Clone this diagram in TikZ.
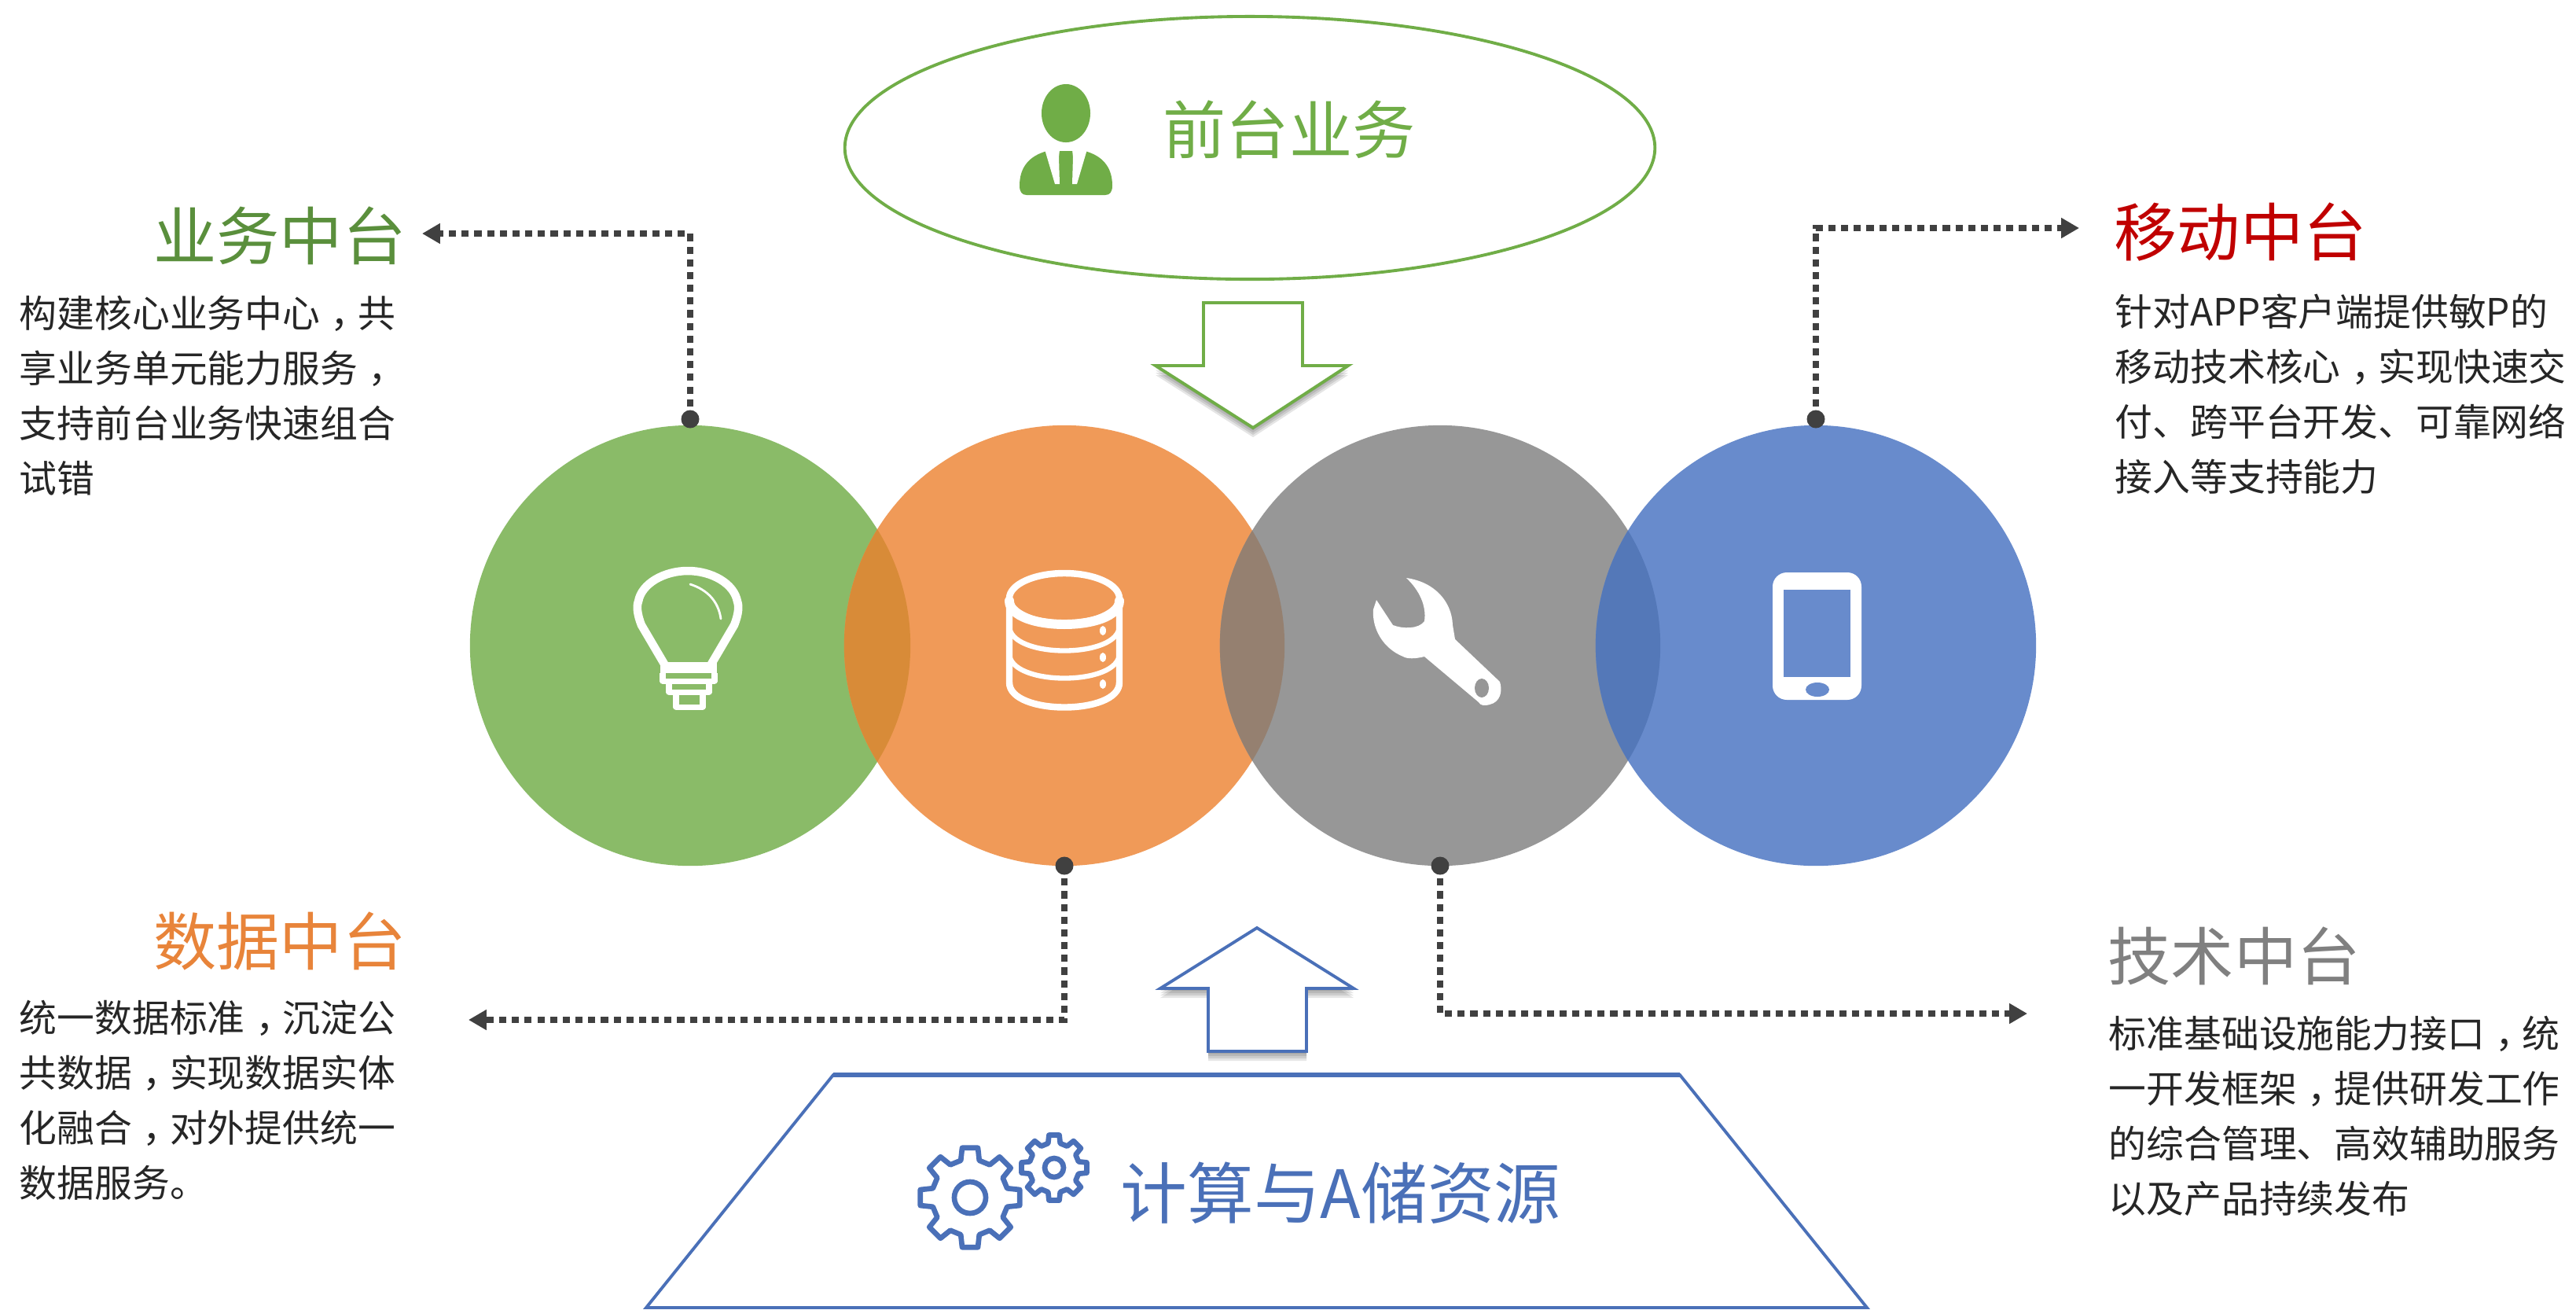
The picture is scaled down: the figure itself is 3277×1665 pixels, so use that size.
\documentclass[tikz,border=0pt]{standalone}
\usepackage{fontspec}
\setmainfont{Noto Sans CJK SC}
\usetikzlibrary{arrows.meta,shapes.geometric}
\definecolor{cgreen}{HTML}{8ABB68}
\definecolor{corange}{HTML}{F09A58}
\definecolor{cgrey}{HTML}{979797}
\definecolor{cblue}{HTML}{688BCC}
\definecolor{lensGO}{HTML}{D88B38}
\definecolor{lensOG}{HTML}{958070}
\definecolor{lensGB}{HTML}{5478B8}
\definecolor{lineG}{HTML}{70AD47}
\definecolor{lineB}{HTML}{4A70B8}
\definecolor{dotc}{HTML}{404040}
\definecolor{bodyc}{HTML}{262626}
\definecolor{tGreen}{HTML}{5A8F3C}
\definecolor{tOrange}{HTML}{E8843A}
\definecolor{tRed}{HTML}{C00000}
\definecolor{tGrey}{HTML}{808080}
\newcommand\cma{\hspace*{.28em}，\hspace*{-.28em}}
\newcommand\arrowdownshape[1]{\path[#1] (1531,385) -- (1657,385) -- (1657,465) -- (1715,465) -- (1594,544) -- (1470,465) -- (1531,465) -- cycle;}
\newcommand\arrowupshape[1]{\path[#1] (1599,1180) -- (1722,1257) -- (1662,1257) -- (1662,1337) -- (1537,1337) -- (1537,1257) -- (1476,1257) -- cycle;}
\newcommand\gearshape[4]{\begin{scope}[shift={(#1,#2)}]
  \draw[gearline] (-14:.76*#3) \foreach \a in {0,45,...,315}{ -- (\a-14:.76*#3) -- (\a-9:#3) -- (\a+9:#3) -- (\a+14:.76*#3) } -- cycle;
  \draw[gearline] (0,0) circle[radius=#4cm];
\end{scope}}
\tikzset{
  disc/.style={circle,minimum size=5.6cm,inner sep=0pt,fill=#1},
  dotnode/.style={circle,minimum size=.23cm,inner sep=0pt,fill=dotc},
  conn/.style={draw=dotc,line width=2.2pt,dash pattern=on 2.6pt off 2pt,-{Triangle[length=6.5pt,width=7pt,fill=dotc]}},
  titletext/.style={inner sep=0pt,font=\fontsize{22.8pt}{26pt}\selectfont},
  bodytext/.style={inner sep=0pt,anchor=west,align=left,text=bodyc,font=\fontsize{13.6pt}{19.9pt}\selectfont},
  gline/.style={draw=lineG,line width=1.1pt,fill=white,line join=miter},
  bline/.style={draw=lineB,line width=1.1pt,fill=white,line join=miter},
  softshadow/.style={fill=black,fill opacity=.1,draw=none},
  gearline/.style={draw=lineB,line width=1.9pt,line join=round,fill=white},
  iconline/.style={draw=white,line width=#1,line cap=round,line join=round},
}
\begin{document}
\begin{tikzpicture}[x=.01cm,y=-.01cm]
\useasboundingbox (0,0) rectangle (3277,1665);
\fill[white] (0,0) rectangle (3277,1665);

% circles
\node[disc=cgreen] (c1) at (878,821) {};
\node[disc=corange] (c2) at (1354,821) {};
\node[disc=cgrey] (c3) at (1832,821) {};
\node[disc=cblue] (c4) at (2310,821) {};
\begin{scope}\clip (c1.center) circle[radius=2.8cm];\fill[lensGO] (c2.center) circle[radius=2.8cm];\end{scope}
\begin{scope}\clip (c2.center) circle[radius=2.8cm];\fill[lensOG] (c3.center) circle[radius=2.8cm];\end{scope}
\begin{scope}\clip (c3.center) circle[radius=2.8cm];\fill[lensGB] (c4.center) circle[radius=2.8cm];\end{scope}

% front ellipse, person, label
\node[ellipse,draw=lineG,line width=1.1pt,minimum width=10.30cm,minimum height=3.34cm,inner sep=0pt] (front) at (1590,188) {};
\fill[lineG] (1356,144) ellipse[x radius=.31cm,y radius=.37cm];
\fill[lineG] (1297,236) .. controls (1297,212) and (1310,198) .. (1332,192) -- (1380,192) .. controls (1402,198) and (1415,212) .. (1415,236) .. controls (1415,244) and (1412,248) .. (1406,248) -- (1306,248) .. controls (1300,248) and (1297,244) .. (1297,236) -- cycle;
\fill[white] (1329,190) -- (1348,190) -- (1347,200) -- (1348,234) -- (1342,234) -- cycle;
\fill[white] (1383,190) -- (1364,190) -- (1365,200) -- (1364,234) -- (1370,234) -- cycle;
\node[titletext,anchor=west,text=lineG] (frontlabel) at (1479,165) {前台业务};

% block arrows
\foreach \dd in {3,6,9,12}{\begin{scope}[shift={(0,\dd)}]\arrowdownshape{softshadow}\end{scope}}
\arrowdownshape{gline}
\foreach \dd in {3,6,9,12}{\begin{scope}[shift={(0,\dd)}]\arrowupshape{softshadow}\end{scope}}
\arrowupshape{bline}

% base trapezoid
\path[bline,line width=1.1pt] (1060,1367) -- (2137,1367) -- (2375,1663) -- (822,1663) -- cycle;
\draw[lineB,line width=1.8pt] (1060,1367) -- (2137,1367);
\gearshape{1234}{1523}{64}{.2}
\gearshape{1341}{1485}{42}{.12}
\node[inner sep=0pt,anchor=west,text=lineB,font=\fontsize{24.1pt}{26pt}\selectfont] (baselabel) at (1425,1517) {计算与A储资源};

% bulb
\draw[iconline=3pt] (846,846) -- (816,795) .. controls (810,780) and (810,770) .. (812,765) .. controls (816,742) and (845,726) .. (875,726) .. controls (905,726) and (934,742) .. (938,765) .. controls (940,770) and (940,780) .. (934,795) -- (904,846);
\fill[white] (840,842) rectangle (912,856);
\draw[iconline=2pt,line cap=butt] (843,856) -- (843,866) -- (909,866) -- (909,856);
\draw[iconline=2pt,line cap=butt] (851,868) -- (851,880) -- (902,880) -- (902,868);
\draw[iconline=2pt,line cap=butt] (860,882) -- (860,899) -- (894,899) -- (894,882);
\draw[iconline=.8pt] (878,743) .. controls (900,750) and (914,765) .. (917,787);

% database
\draw[iconline=2.4pt] (1354,761) ellipse[x radius=.70cm,y radius=.32cm];
\draw[iconline=2.4pt] (1284,761) -- (1284,868) .. controls (1284,910) and (1424,910) .. (1424,868) -- (1424,761);
\draw[iconline=3.4pt] (1284,764) .. controls (1284,804) and (1424,804) .. (1424,764);
\draw[iconline=1.8pt] (1284,796) .. controls (1284,838) and (1424,838) .. (1424,796);
\draw[iconline=1.8pt] (1284,831) .. controls (1284,873) and (1424,873) .. (1424,831);
\foreach \yy in {802,836,870}{\fill[white] (1403,\yy) ellipse[x radius=.04cm,y radius=.06cm];}

% wrench
\fill[white,line join=round] (1789,735) .. controls (1825,740) and (1847,765) .. (1848,795) -- (1851,813) -- (1908,867) .. controls (1912,880) and (1908,893) .. (1895,896) .. controls (1888,898) and (1883,897) .. (1881,893) -- (1812,835) .. controls (1800,838) and (1790,838) .. (1785,835) .. controls (1760,825) and (1745,800) .. (1747,775) -- (1751,763) -- (1772,795) .. controls (1785,800) and (1805,800) .. (1812,790) .. controls (1815,770) and (1805,750) .. (1789,735) -- cycle;
\fill[cgrey] (1885,875) ellipse[x radius=.09cm,y radius=.12cm];

% phone
\fill[white,rounded corners=.18cm] (2255,728) rectangle (2368,890);
\fill[cblue] (2269,750) rectangle (2354,861);
\fill[cblue] (2312,877) ellipse[x radius=.15cm,y radius=.09cm];

% dots
\node[dotnode] (d1) at (878,533) {};
\node[dotnode] (d2) at (1354,1101) {};
\node[dotnode] (d3) at (1832,1101) {};
\node[dotnode] (d4) at (2310,533) {};

% connectors
\coordinate (e1) at (537,297);
\coordinate (e2) at (596,1297);
\coordinate (e3) at (2579,1289);
\coordinate (e4) at (2645,290);
\draw[conn] (d1.center) |- (e1);
\draw[conn] (d2.center) |- (e2);
\draw[conn] (d3.center) |- (e3);
\draw[conn] (d4.center) |- (e4);

% titles
\node[titletext,anchor=east,text=tGreen] (t1) at (517,300) {业务中台};
\node[titletext,anchor=east,text=tOrange] (t2) at (517,1197) {数据中台};
\node[titletext,anchor=west,text=tRed] (t4) at (2689,295) {移动中台};
\node[titletext,anchor=west,text=tGrey] (t3) at (2681,1216) {技术中台};

% body
\node[bodytext] (b1) at (24,503) {构建核心业务中心\cma 共\\享业务单元能力服务\cma\\支持前台业务快速组合\\试错};
\node[bodytext] (b2) at (24,1399) {统一数据标准\cma 沉淀公\\共数据\cma 实现数据实体\\化融合\cma 对外提供统一\\数据服务。};
\node[bodytext] (b4) at (2690,501) {针对APP客户端提供敏P的\\移动技术核心\cma 实现快速交\\付、跨平台开发、可靠网络\\接入等支持能力};
\node[bodytext] (b3) at (2682,1419) {标准基础设施能力接口\cma 统\\一开发框架\cma 提供研发工作\\的综合管理、高效辅助服务\\以及产品持续发布};
\end{tikzpicture}
\end{document}
